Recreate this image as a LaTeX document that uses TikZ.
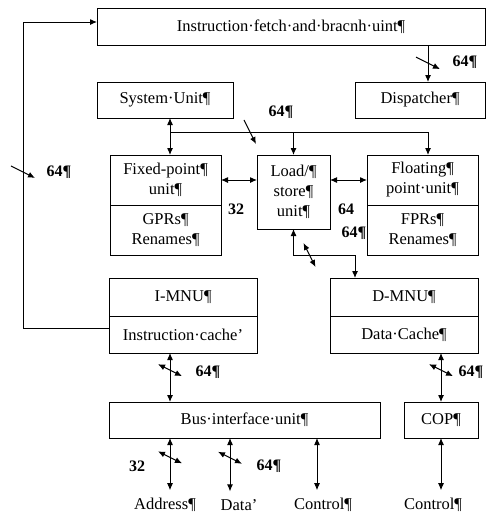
\documentclass[tikz,border=0pt]{standalone}
\usepackage{fontspec}
\setmainfont{Liberation Serif}
\usepackage{tikz}
\usetikzlibrary{positioning,arrows.meta}

\tikzset{
    unitbox/.style = {draw, line width = 1pt, inner sep = 0pt, outer sep = 0pt,
        align = center, font = \fontsize{16.5}{20}\selectfont},
    width/.style  = {minimum width = #1},
    bits/.style   = {font = \fontsize{16}{18}\selectfont\bfseries, inner sep = 0pt},
    sig/.style    = {font = \fontsize{16.5}{18}\selectfont, inner sep = 0pt, outer sep = 8pt},
    vslash/.pic   = {\draw (-12,-6) -- (12,6);},
    hslash/.pic   = {\draw (-6,-12) -- (6,12);}
}

\begin{document}
\begin{tikzpicture}[x = 1pt, y = -1pt, line width = 1pt, >={Latex[length=7pt,width=6pt]}]
        \useasboundingbox (0,0) rectangle (486,517);
        % units
        \node [unitbox, width = 388pt, minimum height = 37pt, anchor = north west] (ifu) at (97,8) {Instruction·fetch·and·bracnh·uint¶};
        \node [unitbox, width = 136pt, minimum height = 36pt, anchor = north west] (sys) at (97,82) {System·Unit¶};
        \node [unitbox, width = 130pt, minimum height = 36pt, anchor = north west] (disp) at (355,82) {Dispatcher¶};
        \node [unitbox, width = 111pt, minimum height = 50pt, anchor = north west] (fxtop) at (110,155) {Fixed-point¶\\unit¶};
        \node [unitbox, width = 111pt, minimum height = 50pt] (fxbot) [below = 0pt of fxtop] {GPRs¶\\Renames¶};
        \node [unitbox, width = 73pt, minimum height = 74pt, anchor = north west] (lsu) at (257,155) {Load/¶\\store¶\\unit¶};
        \node [unitbox, width = 111pt, minimum height = 50pt, anchor = north west] (fltop) at (367,155) {Floating¶\\point·unit¶};
        \node [unitbox, width = 111pt, minimum height = 50pt] (flbot) [below = 0pt of fltop] {FPRs¶\\Renames¶};
        \node [unitbox, width = 148pt, minimum height = 38pt, anchor = north west] (imtop) at (109,278) {I-MNU¶};
        \node [unitbox, width = 148pt, minimum height = 37pt] (imbot) [below = 0pt of imtop] {Instruction·cache’};
        \node [unitbox, width = 148pt, minimum height = 38pt, anchor = north west] (dmtop) at (330,278) {D-MNU¶};
        \node [unitbox, width = 148pt, minimum height = 37pt] (dmbot) [below = 0pt of dmtop] {Data·Cache¶};
        \node [unitbox, width = 271pt, minimum height = 36pt, anchor = north west] (biu) at (109,402) {Bus·interface·unit¶};
        \node [unitbox, width = 74pt, minimum height = 36pt, anchor = north west] (cop) at (404,402) {COP¶};

        % external signals
        \node [sig] (addr) at (165,505) {Address¶};
        \node [sig] (data) at (239,505) {Data’};
        \node [sig] (ctrl) at (323,505) {Control¶};
        \node [sig] (cctrl) at (433,505) {Control¶};

        % bends of the buses
        \coordinate (sysbus) at (170,132);
        \coordinate (dspbus) at (428,132);
        \coordinate (lsbend) at (355,255);
        \coordinate (fbbot) at (23,328);
        \coordinate (fbtop) at (23,22);

        % connectors
        \draw [->] (imbot.west |- fbbot) -- (fbbot) -- pic [pos = 0.51] {vslash} (fbtop) -- (ifu.west |- fbtop);
        \draw [->] (ifu.south -| dspbus) -- pic [pos = 0.49] {vslash} (disp.north -| dspbus);
        \draw [<->] (sys.south -| sysbus) -- (fxtop.north -| sysbus);
        \draw [->] (sysbus) -- pic [pos = 0.31] {hslash} (dspbus) -- (fltop.north -| dspbus);
        \draw [->] (sysbus -| lsu.north) -- (lsu.north);
        \draw [<->] (fxtop.east) -- (lsu.west |- fxtop.east);
        \draw [<->] (lsu.east |- fltop.west) -- (fltop.west);
        \draw [<->] (lsu.south) |- pic [pos = 0.63] {hslash} (lsbend) -- (dmtop.north -| lsbend);
        \draw [<->] (imbot.south -| sysbus) -- pic [pos = 0.35] {vslash} (biu.north -| sysbus);
        \draw [<->] (dmbot.south -| cop.north) -- pic [pos = 0.35] {vslash} (cop.north);
        \draw [<->] (biu.south -| sysbus) -- pic [pos = 0.37] {vslash} (addr.north -| sysbus);
        \draw [<->] (biu.south -| 230,0) -- pic [pos = 0.37] {vslash} (data.north -| 230,0);
        \draw [<->] (biu.south -| 317,0) -- (ctrl.north -| 317,0);
        \draw [<->] (cop.south) -- (cctrl.north -| cop.south);

        % bus widths
        \node [bits] (wfb) at (59,172) {64¶};
        \node [bits] (wdsp) at (465,62) {64¶};
        \node [bits] (wsys) at (281,112) {64¶};
        \node [bits] (wfx) at (236,209) {32};
        \node [bits] (wfl) at (346,209) {64};
        \node [bits] (wls) at (354,233) {64¶};
        \node [bits] (wim) at (208,372) {64¶};
        \node [bits] (wdm) at (471,372) {64¶};
        \node [bits] (wadr) at (137,466) {32};
        \node [bits] (wdat) at (269,466) {64¶};
    \end{tikzpicture}
\end{document}
